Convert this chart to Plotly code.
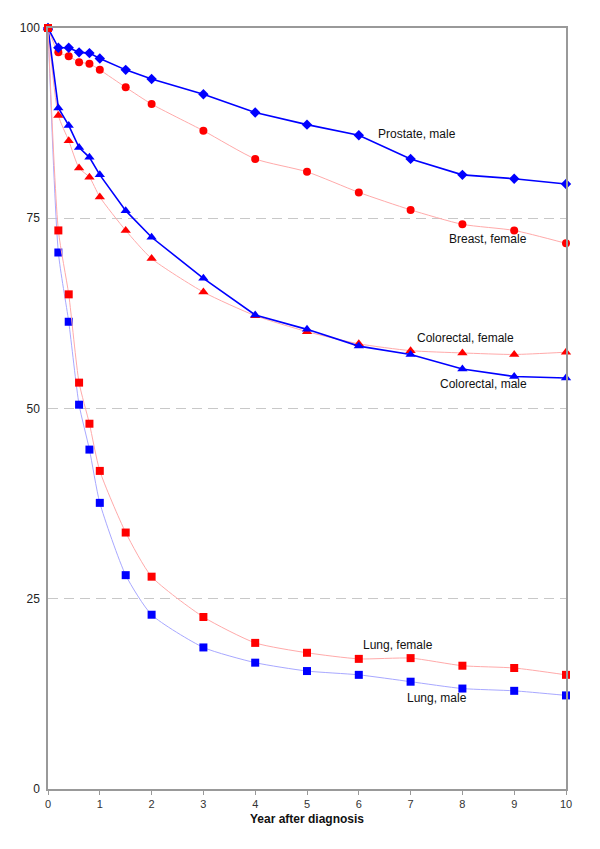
import plotly.graph_objects as go

years = [0, 0.2, 0.4, 0.6, 0.8, 1, 1.5, 2, 3, 4, 5, 6, 7, 8, 9, 10]

prostate_male = [100, 97.4, 97.4, 96.8, 96.7, 96.0, 94.5, 93.3, 91.3, 88.9, 87.3, 85.9, 82.8, 80.7, 80.2, 79.5]
breast_female = [100, 96.8, 96.3, 95.5, 95.3, 94.5, 92.2, 90.0, 86.5, 82.8, 81.1, 78.4, 76.1, 74.2, 73.4, 71.7]
colorectal_male = [100, 89.5, 87.2, 84.3, 83.0, 80.7, 76.0, 72.5, 67.1, 62.3, 60.4, 58.2, 57.1, 55.2, 54.2, 54.0]
colorectal_female = [100, 88.5, 85.2, 81.6, 80.4, 77.8, 73.4, 69.7, 65.3, 62.2, 60.1, 58.5, 57.6, 57.3, 57.1, 57.4]
lung_male = [100, 70.5, 61.4, 50.5, 44.6, 37.6, 28.1, 22.9, 18.6, 16.6, 15.5, 15.0, 14.1, 13.2, 12.9, 12.3]
lung_female = [100, 73.4, 65.0, 53.4, 48.0, 41.8, 33.7, 27.9, 22.6, 19.2, 17.9, 17.1, 17.2, 16.2, 15.9, 15.0]

y_ticks = [0, 25, 50, 75, 100]
x_ticks = list(range(0, 11))

RED = "#ff0000"
BLUE = "#0000ff"
PINK = "#ffaaaa"
LBLUE = "#a8a8ff"

fig = go.Figure()

def add(y, marker, mcolor, lcolor, lwidth, size, shape="linear", name=""):
    fig.add_trace(go.Scatter(
        x=years, y=y, mode="lines+markers", name=name,
        line=dict(color=lcolor, width=lwidth, shape=shape, smoothing=0.6),
        marker=dict(symbol=marker, color=mcolor, size=size, line=dict(width=0)),
        showlegend=False, cliponaxis=False,
    ))

add(lung_male, "square", BLUE, LBLUE, 1, 8, "spline", "Lung, male")
add(colorectal_female, "triangle-up", RED, PINK, 1, 9, "spline", "Colorectal, female")
add(colorectal_male, "triangle-up", BLUE, BLUE, 1.6, 9, "linear", "Colorectal, male")
add(breast_female, "circle", RED, PINK, 1, 8, "spline", "Breast, female")
add(prostate_male, "diamond", BLUE, BLUE, 1.6, 8, "linear", "Prostate, male")
add(lung_female, "square", RED, PINK, 1, 8, "spline", "Lung, female")

labels = [
    ("Prostate, male", 6.34, 86.1),
    ("Breast, female", 7.71, 72.3),
    ("Colorectal, female", 7.09, 59.2),
    ("Colorectal, male", 7.52, 53.2),
    ("Lung, female", 6.05, 18.9),
    ("Lung, male", 6.9, 11.9),
]
for text, x, y in labels:
    fig.add_annotation(x=x, y=y, text=text, showarrow=False, xanchor="left",
                       yanchor="middle", font=dict(size=12, color="#111111"))

fig.update_layout(
    width=592, height=841,
    margin=dict(l=40, r=34, t=20, b=60),
    paper_bgcolor="white", plot_bgcolor="white",
    font=dict(family="Liberation Sans, Arial, sans-serif", size=12, color="#222222"),
    xaxis=dict(
        range=[0, 10], tickvals=x_ticks, showgrid=False, zeroline=False,
        showline=True, linecolor="#999999", linewidth=1.5, mirror=True,
        ticks="outside", ticklen=4, tickcolor="#999999",
        title=dict(text="<b>Year after diagnosis</b>", font=dict(size=12, color="#111111"), standoff=6),
        tickfont=dict(size=11, color="#333333"),
    ),
    yaxis=dict(
        range=[0, 100], tickvals=y_ticks, showgrid=True, gridcolor="#c8c8c8",
        griddash="10px,6px", gridwidth=1, zeroline=False,
        showline=True, linecolor="#999999", linewidth=1.5, mirror=True,
        ticks="", tickfont=dict(size=12, color="#222222"), ticklabelstandoff=4,
    ),
)

fig.write_html("out.html")
